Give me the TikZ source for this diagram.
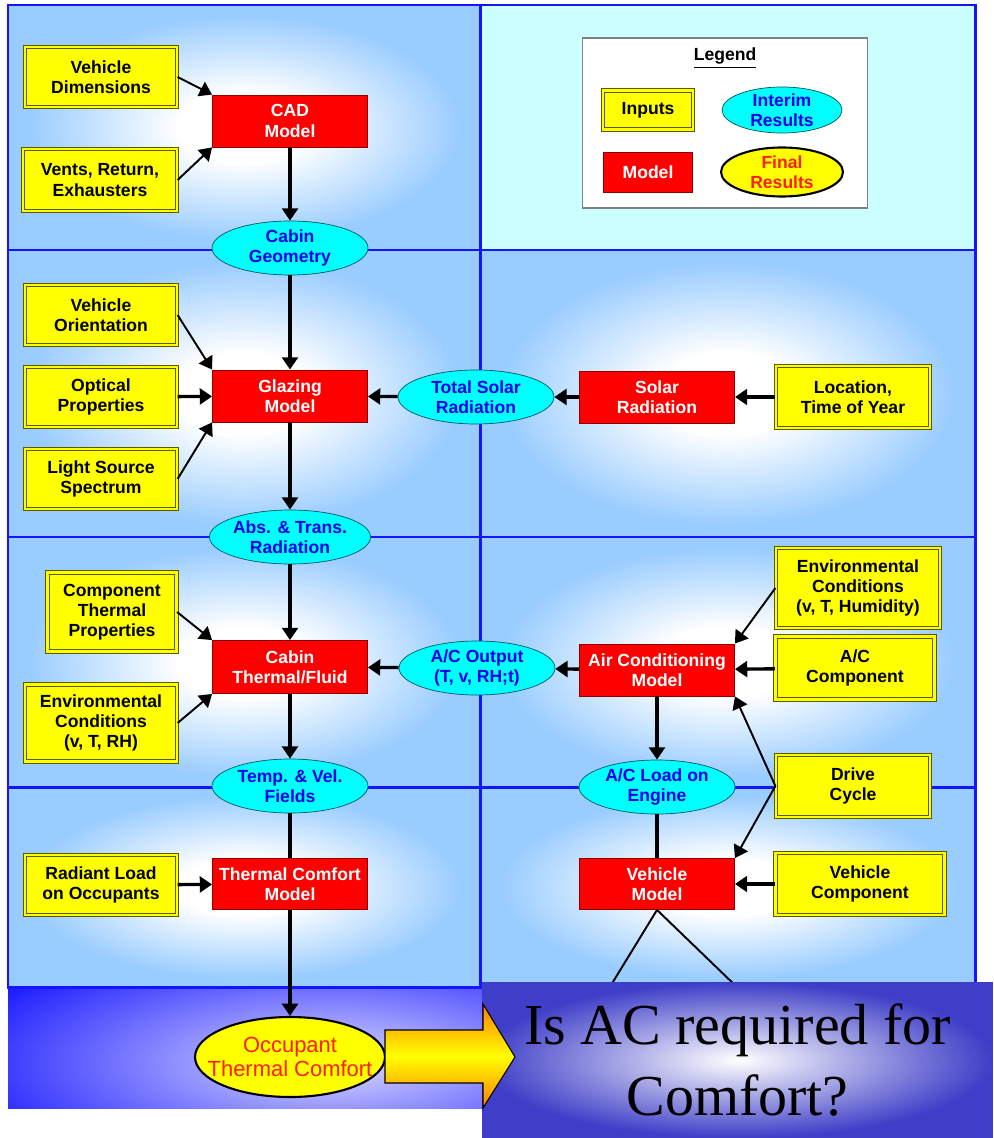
\documentclass[tikz,border=0pt]{standalone}
\usepackage{fontspec}
\setmainfont{Liberation Sans}
\newfontfamily\qserif{Liberation Serif}
\usetikzlibrary{shapes.geometric,arrows.meta}

\definecolor{skyblue}{RGB}{153,204,255}
\definecolor{palecyan}{RGB}{204,255,255}
\definecolor{lineblue}{RGB}{20,20,255}
\definecolor{inyellow}{RGB}{255,255,0}
\definecolor{inedge}{RGB}{90,90,0}
\definecolor{modred}{RGB}{255,0,0}
\definecolor{interim}{RGB}{0,255,255}
\definecolor{interimtext}{RGB}{0,0,235}
\definecolor{finaltext}{RGB}{255,30,0}
\definecolor{qblue}{RGB}{62,62,200}
\pgfdeclareradialshading{panelshade}{\pgfpoint{0bp}{0bp}}{color(0bp)=(white); color(7bp)=(white); color(23bp)=(skyblue); color(50bp)=(skyblue)}

\begin{document}
\begin{tikzpicture}[x=0.02cm,y=-0.02cm,
    >={Triangle[length=7pt,width=9pt]},
    txt/.style={font=\bfseries\fontsize{10}{11.5}\selectfont, align=center, inner sep=0pt},
    input/.style={txt, rectangle, fill=inyellow, draw=inedge, line width=0.7pt,
        double=inyellow, double distance=1.4pt, minimum width=3.04cm, minimum height=1.2cm},
    model/.style={txt, rectangle, fill=modred, draw=red!55!black, line width=0.5pt, text=white,
        minimum width=3.1cm, minimum height=1.04cm},
    interim/.style={txt, ellipse, fill=interim, draw=teal!70!black, line width=0.4pt,
        text=interimtext, minimum width=3.12cm, minimum height=1.08cm},
    final/.style={ellipse, fill=inyellow, draw=black, line width=1.2pt, text=finaltext, align=center},
    link/.style={->, line width=1.9pt},
    slant/.style={->, line width=1.1pt},
    panelline/.style={draw=lineblue, line width=1.7pt},
    qbox/.style={inner color=white, outer color=qblue, minimum width=10.22cm, minimum height=3.12cm,
        font=\qserif\fontsize{33}{40}\selectfont, align=center, inner sep=0pt}]

\useasboundingbox (0,0) rectangle (993,1138);

% panels
\fill[palecyan] (480,5) rectangle (975,250);
\foreach \ya/\yb in {5/250,250/537,537/787,787/987}
    \shade[shading=panelshade] (8,\ya) rectangle (480,\yb);
\foreach \ya/\yb in {250/537,537/787,787/987}
    \shade[shading=panelshade] (480,\ya) rectangle (975,\yb);
\begin{scope}
    \clip (8,987) rectangle (482,1108);
    \shade[inner color=blue!14, outer color=blue] (-120,915) rectangle (780,1210);
\end{scope}
\draw[panelline] (8,5) rectangle (975,987);
\foreach \y in {250,537,787}
    \draw[panelline] (8,\y) -- (975,\y);
\draw[panelline] (480,5) -- (480,987);

% legend
\node[draw=gray, fill=white, line width=0.8pt, minimum width=5.7cm, minimum height=3.4cm] (legend) at (725,123) {};
\node[txt] (legtitle) at (725,58) {\underline{Legend}};
\node[input, minimum width=1.8cm, minimum height=0.78cm] (legin) at (648,110) {Inputs};
\node[interim, minimum width=2.4cm, minimum height=0.92cm, inner ysep=-2pt] (legint) at (782,110) {Interim\\Results};
\node[model, minimum width=1.78cm, minimum height=0.8cm] (legmod) at (648,172) {Model};
\node[final, txt, minimum width=2.44cm, minimum height=0.98cm, inner ysep=-2pt] (legfin) at (782,172) {Final\\Results};

% cabin geometry
\node[input] (vdim) at (101,77) {Vehicle\\Dimensions};
\node[input, minimum width=3.08cm, minimum height=1.24cm] (vents) at (100,180) {Vents, Return,\\Exhausters};
\node[model] (cad) at (290,121) {CAD\\Model};
\node[interim] (geom) at (290,248) {Cabin\\Geometry};

% glazing
\node[input] (vorient) at (101,315) {Vehicle\\Orientation};
\node[input] (optical) at (101,397) {Optical\\Properties};
\node[input] (light) at (101,479) {Light Source\\Spectrum};
\node[model] (glazing) at (290,396) {Glazing\\Model};
\node[interim] (absrad) at (290,537) {Abs. \& Trans.\\Radiation};
\node[interim] (totsolar) at (476,397) {Total Solar\\Radiation};
\node[model] (solar) at (657,397) {Solar\\Radiation};
\node[input, minimum width=3.08cm, minimum height=1.24cm] (loc) at (853,397) {Location,\\Time of Year};

% cabin thermal / air conditioning
\node[input, minimum width=2.58cm, minimum height=1.58cm] (compth) at (112,612) {Component\\Thermal\\Properties};
\node[input, minimum height=1.54cm] (envrh) at (101,723) {Environmental\\Conditions\\(v, T, RH)};
\node[model, minimum height=1.06cm] (cabin) at (290,667) {Cabin\\Thermal/Fluid};
\node[interim] (tvf) at (290,786) {Temp. \& Vel.\\Fields};
\node[interim] (acout) at (477,668) {A/C Output\\(T, v, RH;t)};
\node[model] (acmodel) at (657,670) {Air Conditioning\\Model};
\node[input, minimum width=3.28cm, minimum height=1.6cm] (envhum) at (858,588) {Environmental\\Conditions\\(v, T, Humidity)};
\node[input, minimum width=3.18cm, minimum height=1.26cm] (accomp) at (855,668) {A/C\\Component};
\node[input, minimum width=3.08cm, minimum height=1.24cm] (drive) at (853,786) {Drive\\Cycle};
\node[interim] (acload) at (657,787) {A/C Load on\\Engine};

% comfort / vehicle
\node[input] (radiant) at (101,885) {Radiant Load\\on Occupants};
\node[model, minimum height=1.02cm] (tcm) at (290,884) {Thermal Comfort\\Model};
\node[model, minimum height=1.02cm] (vmodel) at (657,884) {Vehicle\\Model};
\node[input, minimum width=3.38cm, minimum height=1.24cm] (vcomp) at (860,884) {Vehicle\\Component};
\node[final, font=\fontsize{12.5}{14}\selectfont, minimum width=3.8cm, minimum height=1.6cm,
    inner xsep=-0.31cm, inner ysep=0pt] (occ) at (290,1057) {Occupant\\Thermal Comfort};
\coordinate (vleft) at (608,990);
\coordinate (vright) at (740,990);

% connectors
\draw[slant] (vdim.east) -- (cad.north west);
\draw[slant] (vents.east) -- (cad.south west);
\draw[link] (cad) -- (geom);
\draw[link] (geom) -- (glazing);
\draw[slant] (vorient.east) -- (glazing.north west);
\draw[link] (optical) -- (glazing);
\draw[slant] (light.east) -- (glazing.south west);
\draw[link] (totsolar) -- (glazing);
\draw[link] (solar) -- (totsolar);
\draw[link] (loc) -- (solar);
\draw[link] (glazing) -- (absrad);
\draw[link] (absrad) -- (cabin);
\draw[slant] (compth.east) -- (cabin.north west);
\draw[slant] (envrh.east) -- (cabin.south west);
\draw[link] (acout) -- (cabin);
\draw[link] (acmodel) -- (acout);
\draw[slant] (envhum.west) -- (acmodel.north east);
\draw[link] (accomp) -- (acmodel);
\draw[slant] (drive.west) -- (acmodel.south east);
\draw[slant] (drive.west) -- (vmodel.north east);
\draw[link] (acmodel) -- (acload);
\draw[line width=1.9pt] (acload) -- (vmodel);
\draw[link] (vcomp) -- (vmodel);
\draw[link] (cabin) -- (tvf);
\draw[line width=1.9pt] (tvf) -- (tcm);
\draw[link] (radiant) -- (tcm);
\draw[link] (tcm) -- (occ);
\draw[line width=1.1pt] (vmodel.south) -- (vleft);
\draw[line width=1.1pt] (vmodel.south) -- (vright);

% question
\node[qbox] (quest) at (737.5,1060) {Is AC required for\\Comfort?};
\shade[top color=orange, bottom color=orange, middle color=yellow, draw=black, line width=0.6pt]
    (385,1030) -- (483,1030) -- (483,1004) -- (515,1057) -- (483,1108) -- (483,1083) -- (385,1083) -- cycle;
\end{tikzpicture}
\end{document}
